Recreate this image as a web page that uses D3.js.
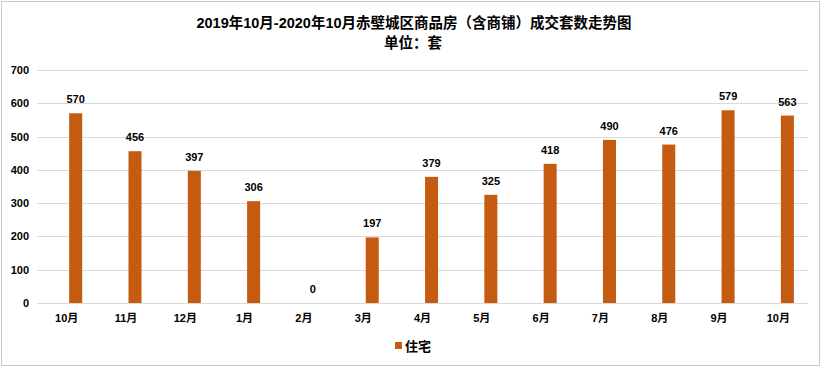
<!DOCTYPE html>
<html><head><meta charset="utf-8">
<script src="https://cdn.jsdelivr.net/npm/d3@7/dist/d3.min.js"></script>
<style>
html,body{margin:0;padding:0;background:#fff;}
text{font-family:"Liberation Sans","Noto Sans CJK SC",sans-serif;font-weight:bold;fill:#000;}
</style></head>
<body>
<svg id="chart" width="826" height="367"></svg>
<script>
const categories = ["10月","11月","12月","1月","2月","3月","4月","5月","6月","7月","8月","9月","10月"];
const values = [570,456,397,306,0,197,379,325,418,490,476,579,563];
const seriesNames = ["空","住宅"];
const yTicks = [0,100,200,300,400,500,600,700];
const title1 = "2019年10月-2020年10月赤壁城区商品房（含商铺）成交套数走势图";
const title2 = "单位：套";
const legendLabel = "住宅";

const svg = d3.select("#chart");
const W = 826, H = 367;
const m = {left:37, right:18, top:70, bottom:64};
const color = "#c55a11";

// outer frame
svg.append("rect").attr("x",1.5).attr("y",1.5).attr("width",818).attr("height",364)
  .attr("fill","#fff").attr("stroke","#c8c8c8").attr("stroke-width",1);

const idx = categories.map((c,i)=>i);
const x = d3.scaleBand().domain(idx).range([m.left, W-m.right]).paddingInner(0).paddingOuter(0);
const x1 = d3.scaleBand().domain(seriesNames).range([0, x.bandwidth()]).paddingInner(0.28).paddingOuter(0.78);
const y = d3.scaleLinear().domain([0,700]).range([H-m.bottom, m.top]);

// gridlines
svg.append("g").selectAll("line").data(yTicks).join("line")
  .attr("x1",m.left).attr("x2",W-m.right)
  .attr("y1",d=>Math.round(y(d))+0.5).attr("y2",d=>Math.round(y(d))+0.5)
  .attr("stroke","#d9d9d9").attr("stroke-width",1);

// y labels
svg.append("g").selectAll("text").data(yTicks).join("text")
  .attr("x",29).attr("y",d=>y(d)+4).attr("text-anchor","end")
  .attr("font-size","11px").text(d=>d);

// bars
svg.append("g").selectAll("rect").data(values).join("rect")
  .attr("x",(d,i)=>x(i)+x1("住宅"))
  .attr("width",x1.bandwidth())
  .attr("y",d=>y(d))
  .attr("height",d=>y(0)-y(d))
  .attr("fill",color);

// value labels
svg.append("g").selectAll("text").data(values).join("text")
  .attr("x",(d,i)=>x(i)+x1("住宅")+x1.bandwidth()/2)
  .attr("y",d=>y(d)-10)
  .attr("text-anchor","middle").attr("font-size","11px").text(d=>d);

// x labels
svg.append("g").selectAll("text").data(categories).join("text")
  .attr("x",(d,i)=>x(i)+x.bandwidth()/2)
  .attr("y",322).attr("text-anchor","middle").attr("font-size","11px").text(d=>d);

// title
svg.append("text").attr("x",414).attr("y",28).attr("text-anchor","middle")
  .attr("font-size","14.5px").text(title1);
svg.append("text").attr("x",413).attr("y",48).attr("text-anchor","middle")
  .attr("font-size","14.5px").text(title2);

// legend
svg.append("rect").attr("x",395).attr("y",342).attr("width",7).attr("height",7).attr("fill",color);
svg.append("text").attr("x",405).attr("y",351).attr("font-size","13px").text(legendLabel);
</script>
</body></html>
